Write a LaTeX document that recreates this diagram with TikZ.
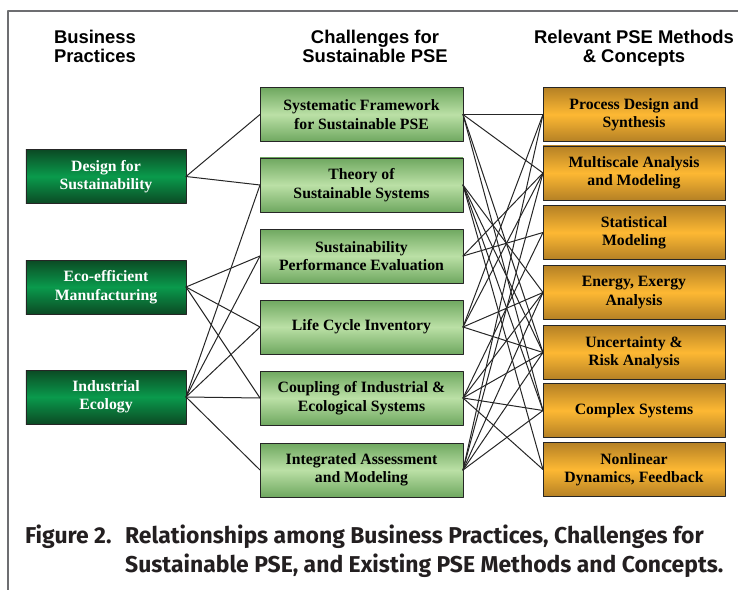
\documentclass[tikz,border=0pt]{standalone}
\usepackage{fontspec}
\setmainfont{Liberation Serif}
\setsansfont{Liberation Sans}
\newfontfamily\capfont{Fira Sans}
\definecolor{dkgreen}{HTML}{0B4A24}
\definecolor{brgreen}{HTML}{0A9A4C}
\definecolor{ltgreen}{HTML}{BBE0A6}
\definecolor{mdgreen}{HTML}{6FA860}
\definecolor{ltorange}{HTML}{FDB833}
\definecolor{dkorange}{HTML}{B58125}
\definecolor{framegray}{HTML}{6D6E71}
\definecolor{captext}{HTML}{231F20}
\begin{document}
\begin{tikzpicture}[x=1bp,y=-1bp,line join=round,line cap=round,
  box/.style={draw=black!85,line width=0.9bp,minimum height=54bp,inner sep=0pt,
    outer sep=0pt,align=center,font=\fontsize{15.8}{18.5}\selectfont\bfseries},
  practice/.style={box,minimum width=160bp,text=white,
    top color=dkgreen,bottom color=dkgreen,middle color=brgreen},
  challenge/.style={box,minimum width=203bp,
    top color=mdgreen,bottom color=mdgreen,middle color=ltgreen},
  method/.style={box,minimum width=182bp,
    top color=dkorange,bottom color=dkorange,middle color=ltorange},
  head/.style={anchor=north,align=center,inner sep=0pt,
    font=\sffamily\bfseries\fontsize{18.5}{19}\selectfont},
  caption/.style={anchor=base west,inner sep=0pt,text=captext,
    font=\capfont\bfseries\fontsize{23}{29}\selectfont},
  link/.style={line width=1bp,black!85}]
\useasboundingbox (0,0) rectangle (738,590);
\draw[framegray,line width=1.6bp] (738,11)--(8,11)--(8,590);
\node[head] (hl) at (95,30) {Business\\Practices};
\node[head] (hm) at (375,30) {Challenges for\\Sustainable PSE};
\node[head] (hr) at (634,30) {Relevant PSE Methods\\\& Concepts};
\node[practice] (L1) at (106,176.5) {Design for\\Sustainability};
\node[practice] (L2) at (106,287) {Eco-efficient\\Manufacturing};
\node[practice] (L3) at (106,397) {Industrial\\Ecology};
\node[challenge] (M1) at (361.5,114.5) {Systematic Framework\\for Sustainable PSE};
\node[challenge] (M2) at (361.5,185) {Theory of\\Sustainable Systems};
\node[challenge] (M3) at (361.5,256) {Sustainability\\Performance Evaluation};
\node[challenge] (M4) at (361.5,327) {Life Cycle Inventory};
\node[challenge] (M5) at (361.5,398) {Coupling of Industrial \&\\Ecological Systems};
\node[challenge] (M6) at (361.5,470) {Integrated Assessment\\and Modeling};
\node[method] (R1) at (634,114.5) {Process Design and\\Synthesis};
\node[method] (R2) at (634,173) {Multiscale Analysis\\and Modeling};
\node[method] (R3) at (634,232.5) {Statistical\\Modeling};
\node[method] (R4) at (634,292.5) {Energy, Exergy\\Analysis};
\node[method] (R5) at (634,352.5) {Uncertainty \&\\Risk Analysis};
\node[method] (R6) at (634,410.5) {Complex Systems};
\node[method] (R7) at (634,469.5) {Nonlinear\\Dynamics, Feedback};
\foreach \a/\b in {1/1,1/2,2/3,2/4,2/5,3/2,3/3,3/4,3/5,3/6}
  \draw[link] (L\a.east)--(M\b.west);
\foreach \a/\b in {1/1,1/2,1/5,1/6,2/4,2/5,2/6,2/7,3/2,3/3,4/1,4/2,4/4,4/5,
    5/3,5/4,5/5,5/6,5/7,6/1,6/2,6/4,6/5,6/6}
  \draw[link] (M\a.east)--(R\b.west);
\node[caption] (cap) at (25,543) {Figure 2.};
\node[caption] (capa) at (125,543) {Relationships among Business Practices, Challenges for};
\node[caption] (capb) at (125,572) {Sustainable PSE, and Existing PSE Methods and Concepts.};
\end{tikzpicture}
\end{document}
